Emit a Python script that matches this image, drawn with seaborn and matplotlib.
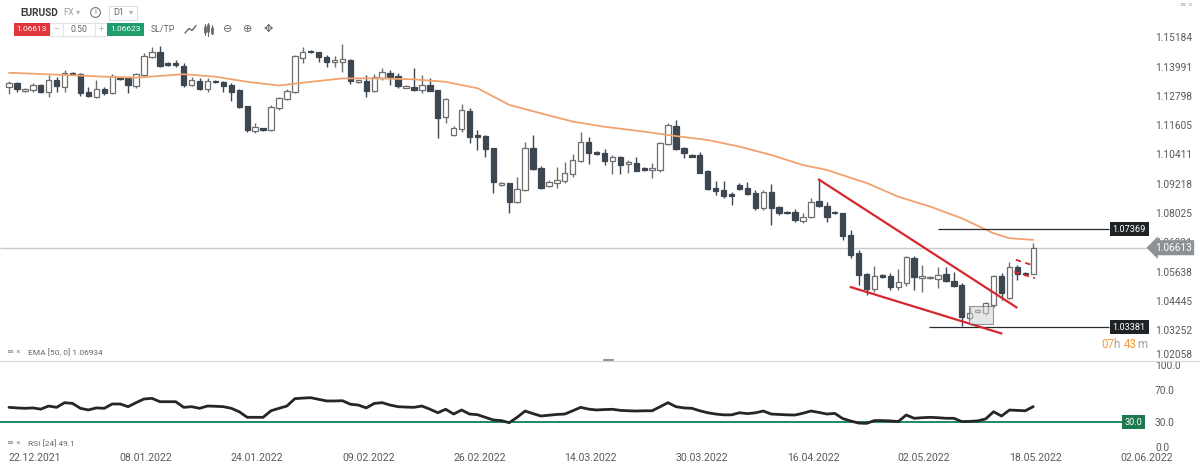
import numpy as np
import matplotlib
matplotlib.use("Agg")
import matplotlib.pyplot as plt
import matplotlib.patches as mpatches
from matplotlib.lines import Line2D
import seaborn as sns

# ------------------------------------------------------------------
# data (EURUSD D1, one candle per session)
# ------------------------------------------------------------------
opens = [1.1316, 1.1332, 1.1300, 1.1304, 1.1324, 1.1296, 1.1344, 1.1316, 1.1373, 1.1369,
         1.1296, 1.1275, 1.1308, 1.1291, 1.1353, 1.1353, 1.1320, 1.1365, 1.1438, 1.1458,
         1.1414, 1.1414, 1.1401, 1.1324, 1.1340, 1.1308, 1.1340, 1.1336, 1.1324, 1.1304,
         1.1239, 1.1137, 1.1147, 1.1141, 1.1230, 1.1267, 1.1296, 1.1434, 1.1462, 1.1458,
         1.1438, 1.1416, 1.1419, 1.1426, 1.1336, 1.1340, 1.1300, 1.1353, 1.1373, 1.1361,
         1.1313, 1.1316, 1.1304, 1.1324, 1.1304, 1.1194, 1.1121, 1.1145, 1.1218, 1.1121,
         1.1116, 1.1068, 1.0917, 1.0925, 1.0848, 1.0897, 1.1068, 1.0986, 1.0913, 1.0925,
         1.0933, 1.0962, 1.1015, 1.1092, 1.1051, 1.1047, 1.1015, 1.1031, 1.1002, 1.1006,
         1.0986, 1.0978, 1.0978, 1.1084, 1.1157, 1.1068, 1.1039, 1.1039, 1.0974, 1.0905,
         1.0897, 1.0880, 1.0917, 1.0905, 1.0885, 1.0823, 1.0889, 1.0828, 1.0807, 1.0807,
         1.0770, 1.0787, 1.0850, 1.0832, 1.0807, 1.0803, 1.0714, 1.0640, 1.0555, 1.0494,
         1.0551, 1.0547, 1.0502, 1.0518, 1.0620, 1.0539, 1.0539, 1.0534, 1.0555, 1.0526,
         1.0510, 1.0376, 1.0400, 1.0396, 1.0429, 1.0547, 1.0457, 1.0583, 1.0559, 1.0555]
highs = [1.1340, 1.1336, 1.1312, 1.1332, 1.1328, 1.1365, 1.1357, 1.1385, 1.1377, 1.1373,
         1.1316, 1.1344, 1.1316, 1.1369, 1.1357, 1.1357, 1.1373, 1.1454, 1.1479, 1.1483,
         1.1418, 1.1426, 1.1414, 1.1357, 1.1353, 1.1353, 1.1344, 1.1340, 1.1332, 1.1308,
         1.1239, 1.1169, 1.1149, 1.1243, 1.1275, 1.1308, 1.1446, 1.1479, 1.1467, 1.1460,
         1.1446, 1.1442, 1.1491, 1.1430, 1.1346, 1.1365, 1.1369, 1.1393, 1.1385, 1.1373,
         1.1324, 1.1393, 1.1365, 1.1353, 1.1304, 1.1271, 1.1157, 1.1247, 1.1230, 1.1141,
         1.1121, 1.1068, 1.0929, 1.0925, 1.0950, 1.1092, 1.1121, 1.0994, 1.0937, 1.0990,
         1.1011, 1.1043, 1.1133, 1.1112, 1.1055, 1.1064, 1.1039, 1.1035, 1.1019, 1.1031,
         1.0990, 1.1006, 1.1092, 1.1169, 1.1181, 1.1072, 1.1041, 1.1051, 1.0978, 1.0933,
         1.0933, 1.0889, 1.0925, 1.0929, 1.0897, 1.0897, 1.0921, 1.0832, 1.0811, 1.0819,
         1.0803, 1.0864, 1.0941, 1.0848, 1.0811, 1.0803, 1.0734, 1.0652, 1.0559, 1.0587,
         1.0555, 1.0559, 1.0575, 1.0628, 1.0628, 1.0591, 1.0547, 1.0583, 1.0583, 1.0563,
         1.0518, 1.0420, 1.0412, 1.0441, 1.0551, 1.0559, 1.0604, 1.0591, 1.0563, 1.0681]
lows = [1.1287, 1.1296, 1.1296, 1.1296, 1.1291, 1.1275, 1.1296, 1.1296, 1.1365, 1.1279,
        1.1275, 1.1273, 1.1283, 1.1287, 1.1344, 1.1291, 1.1312, 1.1361, 1.1434, 1.1397,
        1.1401, 1.1397, 1.1316, 1.1320, 1.1304, 1.1296, 1.1332, 1.1296, 1.1259, 1.1230,
        1.1133, 1.1129, 1.1137, 1.1137, 1.1222, 1.1263, 1.1291, 1.1414, 1.1454, 1.1418,
        1.1397, 1.1397, 1.1377, 1.1328, 1.1334, 1.1275, 1.1296, 1.1344, 1.1324, 1.1312,
        1.1312, 1.1300, 1.1291, 1.1298, 1.1108, 1.1169, 1.1116, 1.1133, 1.1088, 1.1059,
        1.1031, 1.0885, 1.0913, 1.0803, 1.0844, 1.0893, 1.0978, 1.0901, 1.0909, 1.0905,
        1.0925, 1.0950, 1.1011, 1.1002, 1.1039, 1.0998, 1.0962, 1.0962, 1.0966, 1.0972,
        1.0974, 1.0946, 1.0970, 1.1080, 1.1059, 1.1027, 1.1029, 1.0964, 1.0897, 1.0876,
        1.0864, 1.0836, 1.0897, 1.0876, 1.0815, 1.0815, 1.0754, 1.0795, 1.0799, 1.0766,
        1.0762, 1.0783, 1.0826, 1.0766, 1.0799, 1.0693, 1.0620, 1.0510, 1.0469, 1.0482,
        1.0539, 1.0490, 1.0490, 1.0506, 1.0490, 1.0482, 1.0534, 1.0498, 1.0522, 1.0502,
        1.0343, 1.0368, 1.0396, 1.0388, 1.0420, 1.0449, 1.0453, 1.0530, 1.0551, 1.0555]
closes = [1.1332, 1.1308, 1.1306, 1.1324, 1.1296, 1.1344, 1.1320, 1.1373, 1.1369, 1.1291,
          1.1279, 1.1308, 1.1291, 1.1361, 1.1348, 1.1324, 1.1369, 1.1442, 1.1458, 1.1401,
          1.1405, 1.1405, 1.1324, 1.1344, 1.1308, 1.1340, 1.1336, 1.1320, 1.1296, 1.1234,
          1.1141, 1.1153, 1.1139, 1.1234, 1.1271, 1.1300, 1.1442, 1.1458, 1.1458, 1.1438,
          1.1418, 1.1424, 1.1430, 1.1340, 1.1344, 1.1300, 1.1357, 1.1377, 1.1357, 1.1320,
          1.1320, 1.1304, 1.1324, 1.1301, 1.1190, 1.1267, 1.1149, 1.1222, 1.1112, 1.1112,
          1.1064, 1.0929, 1.0925, 1.0848, 1.0901, 1.1068, 1.0982, 1.0905, 1.0929, 1.0937,
          1.0966, 1.1019, 1.1092, 1.1047, 1.1043, 1.1015, 1.1031, 1.0998, 1.1011, 1.0974,
          1.0978, 1.0986, 1.1088, 1.1161, 1.1064, 1.1047, 1.1031, 1.0966, 1.0901, 1.0893,
          1.0872, 1.0872, 1.0901, 1.0880, 1.0823, 1.0889, 1.0823, 1.0803, 1.0803, 1.0774,
          1.0787, 1.0848, 1.0830, 1.0787, 1.0803, 1.0709, 1.0632, 1.0551, 1.0494, 1.0547,
          1.0543, 1.0502, 1.0522, 1.0624, 1.0543, 1.0547, 1.0543, 1.0551, 1.0526, 1.0506,
          1.0380, 1.0396, 1.0408, 1.0437, 1.0547, 1.0475, 1.0583, 1.0555, 1.0555, 1.0661]

# EMA(50) read at a set of candle positions
ema_idx = [0, 7, 12, 16, 22, 26, 30, 34, 38, 42, 47, 51, 55, 59, 63, 68, 71, 75, 80, 84,
           88, 92, 96, 100, 103, 108, 112, 116, 120, 124, 126, 129]
ema_vals = [1.1374, 1.1365, 1.1358, 1.1354, 1.1368, 1.1358, 1.1337, 1.1322, 1.1337, 1.1351,
            1.1351, 1.1347, 1.1337, 1.1311, 1.1243, 1.1200, 1.1175, 1.1154, 1.1134, 1.1116,
            1.1100, 1.1073, 1.1039, 1.0998, 1.0978, 1.0925, 1.0869, 1.0829, 1.0781, 1.0720,
            1.0700, 1.0693]

# RSI(24), one value per candle
rsi_vals = [48.2, 47.5, 47.0, 47.5, 46.0, 49.8, 48.2, 53.9, 53.0, 47.0,
            45.0, 47.5, 47.0, 52.3, 52.3, 49.0, 53.9, 58.4, 59.2, 55.1,
            55.1, 55.1, 48.2, 49.0, 47.0, 49.8, 49.5, 49.0, 47.0, 42.8,
            36.0, 36.0, 36.0, 44.0, 47.0, 49.8, 58.8, 59.5, 60.0, 58.0,
            56.0, 56.0, 56.3, 52.0, 51.0, 47.5, 53.0, 53.9, 51.0, 49.0,
            48.5, 48.2, 49.8, 46.0, 41.6, 45.8, 40.0, 44.9, 40.0, 39.2,
            36.0, 32.7, 32.0, 29.4, 36.0, 43.7, 40.5, 37.6, 38.5, 39.5,
            40.0, 44.0, 48.2, 46.0, 45.0, 45.5, 45.8, 44.5, 44.0, 43.7,
            44.0, 44.0, 49.0, 53.9, 49.0, 47.5, 47.0, 44.0, 41.6, 40.0,
            39.0, 39.0, 41.6, 40.5, 41.5, 43.7, 40.0, 39.5, 39.0, 38.8,
            41.0, 43.7, 42.0, 40.0, 40.8, 34.5, 31.5, 29.0, 28.6, 32.0,
            32.0, 31.6, 30.8, 38.8, 34.8, 35.5, 36.0, 35.5, 34.8, 34.8,
            30.8, 31.0, 31.6, 34.0, 42.8, 37.6, 44.9, 44.5, 44.0, 49.1]

price_ticks = ["1.15184", "1.13991", "1.12798", "1.11605", "1.10411", "1.09218",
               "1.08025", "1.06831", "1.05638", "1.04445", "1.03252", "1.02058"]
rsi_ticks = [0, 30, 70, 100]
date_labels = ["22.12.2021", "08.01.2022", "24.01.2022", "09.02.2022", "26.02.2022",
               "14.03.2022", "30.03.2022", "16.04.2022", "02.05.2022", "18.05.2022",
               "02.06.2022"]

last_price = 1.06613
ask_price = 1.06623
level_high = 1.07369
level_low = 1.03381
ema_last = 1.06934
rsi_last = 49.1

# drawn annotations (candle index, price)
wedge_top = ([101.9, 127.0], [1.0941, 1.0416])
wedge_bottom = ([105.9, 125.1], [1.0502, 1.0311])
flag_top = ([126.8, 129.2], [1.0612, 1.0587])
flag_bottom = ([126.6, 129.2], [1.0563, 1.0537])
box_x = (120.9, 123.9)
box_y = (1.0352, 1.0422)

# ------------------------------------------------------------------
sns.set_style("white")
plt.rcParams['font.family'] = ['Roboto', 'DejaVu Sans']

W, H = 1200, 468
DARK = '#3c4752'
BULL_EDGE = '#6e6e6e'
TXT = '#5a5a5a'


def fx(x):
    return x / W


def fy(y):
    return 1 - y / H


fig = plt.figure(figsize=(12, 4.68), dpi=100)
ax = fig.add_axes([0, fy(361), fx(1150), 361 / H])
ax_rsi = fig.add_axes([0, fy(450), fx(1150), (450 - 361) / H])

step = 7.94
xlim = (-9 / step, (1150 - 9) / step)

# ---- candles ----
o = np.array(opens)
c = np.array(closes)
idx = np.arange(len(o))
up = c >= o
body_lo = np.minimum(o, c)
body_h = np.maximum(np.abs(c - o), 0.00045)
face = np.where(up, 'white', DARK)
edge = np.where(up, BULL_EDGE, DARK)

ax.hlines(last_price, xlim[0], 143.3, color='#c8c8c8', lw=1, zorder=1)
ax.vlines(idx, lows, highs, colors=edge, lw=1, zorder=2)
ax.bar(idx, body_h, bottom=body_lo, width=0.68, color=face, edgecolor=edge,
       linewidth=0.9, zorder=3)

sns.lineplot(x=ema_idx, y=ema_vals, ax=ax, color='#f2a26f', linewidth=1.3,
             legend=False, zorder=4)

# support / resistance levels
ax.hlines(level_high, 117.0, 138.5, color='#2a2a2a', lw=0.9, zorder=4)
ax.hlines(level_low, 115.9, 138.5, color='#2a2a2a', lw=0.9, zorder=4)
for lvl in (level_high, level_low):
    ax.text(139.0, lvl, f"{lvl:.5f}", color='white', fontsize=6.6, va='center', ha='left',
            bbox=dict(boxstyle='square,pad=0.3', fc='#1f2326', ec='none'), zorder=6)

# wedge + flag
ax.plot(*wedge_top, color='#d7262d', lw=1.6, zorder=5, solid_capstyle='butt')
ax.plot(*wedge_bottom, color='#d7262d', lw=1.6, zorder=5, solid_capstyle='butt')
ax.plot(*flag_top, color='#d7262d', lw=1.3, ls=(0, (3, 2.5)), zorder=5)
ax.plot(*flag_bottom, color='#d7262d', lw=1.3, ls=(0, (3, 2.5)), zorder=5)
ax.add_patch(mpatches.Rectangle((box_x[0], box_y[0]), box_x[1] - box_x[0], box_y[1] - box_y[0],
                                facecolor='#cfd3d6', alpha=0.55, edgecolor='#4a4a4a',
                                lw=0.8, zorder=5))

ax.set_xlim(*xlim)
ax.set_ylim(1.01998, 1.16703)
ax.yaxis.tick_right()
ax.set_yticks([float(t) for t in price_ticks])
ax.set_yticklabels(price_ticks)
ax.tick_params(axis='y', length=0, pad=3.6, labelsize=7.3, labelcolor=TXT)
ax.get_yticklabels()[-1].set_va('bottom')
ax.set_xticks([])
ax.set_xlabel('')
ax.set_ylabel('')
for s in ax.spines.values():
    s.set_visible(False)

# current price tag (sits over the 1.06831 tick, as in the platform)
ax.text(144.3, last_price, f"{last_price:.5f}", color='white', fontsize=7.3, va='center',
        ha='left', bbox=dict(boxstyle='larrow,pad=0.25', fc='#8c9196', ec='none'), zorder=7)

# ---- RSI panel ----
ax_rsi.hlines(30, xlim[0], 140.2, color='#1f8a5e', lw=1.4, zorder=1)
sns.lineplot(x=idx, y=rsi_vals, ax=ax_rsi, color='#262626', linewidth=2.0,
             legend=False, zorder=3)
ax_rsi.text(140.5, 30, "30.0", color='white', fontsize=6.6, va='center', ha='left',
            bbox=dict(boxstyle='square,pad=0.3', fc='#1d7a50', ec='none'), zorder=6)
ax_rsi.set_xlim(*xlim)
ax_rsi.set_ylim(-4.0, 104.9)
ax_rsi.yaxis.tick_right()
ax_rsi.set_yticks(rsi_ticks)
ax_rsi.set_yticklabels([f"{v:.1f}" for v in rsi_ticks])
ax_rsi.set_xticks(np.arange(len(date_labels)) * 14 + 3.25)
ax_rsi.set_xticklabels(date_labels)
ax_rsi.tick_params(axis='y', length=0, pad=3.6, labelsize=7.3, labelcolor=TXT)
ax_rsi.tick_params(axis='x', length=0, pad=2.5, labelsize=7.6, labelcolor=TXT)
ax_rsi.set_xlabel('')
ax_rsi.set_ylabel('')
for s in ax_rsi.spines.values():
    s.set_visible(False)

# panel separator + handle
fig.add_artist(Line2D([0, 1], [fy(361), fy(361)], color='#d6d6d6', lw=0.8))
fig.add_artist(Line2D([fx(604), fx(613)], [fy(359.5), fy(359.5)], color='#9a9a9a', lw=1.6))

# indicator captions
fig.text(fx(7), fy(352), "≡ ×", fontsize=6, color='#8a8a8a', va='center')
fig.text(fx(28), fy(352), f"EMA [50, 0] {ema_last:.5f}", fontsize=6, color='#666666', va='center')
fig.text(fx(7), fy(443), "≡ ×", fontsize=6, color='#8a8a8a', va='center')
fig.text(fx(28), fy(443), f"RSI [24] {rsi_last}", fontsize=6, color='#666666', va='center')

# countdown
orange = '#f29a38'
fig.text(fx(1101.5), fy(344), "07", fontsize=8.3, color=orange, va='center')
fig.text(fx(1113.5), fy(344), "h", fontsize=8.3, color='#a0a0a0', va='center')
fig.text(fx(1124), fy(344), "43", fontsize=8.3, color=orange, va='center')
fig.text(fx(1137), fy(344), "m", fontsize=8.3, color='#a0a0a0', va='center')

# ---- header ----
fig.text(fx(20), fy(12.5), "EURUSD", fontsize=7.2, fontweight='bold', color='#3a3a3a', va='center')
fig.text(fx(63), fy(12.5), "FX", fontsize=6.5, color='#9a9a9a', va='center')
fig.text(fx(76), fy(12.5), "▾", fontsize=6, color='#b0b0b0', va='center')
fig.text(fx(95.5), fy(12.5), "i", fontsize=5.5, color='#777777', va='center', ha='center',
         bbox=dict(boxstyle='circle,pad=0.25', fc='none', ec='#777777', lw=0.8))
fig.add_artist(mpatches.Rectangle((fx(109), fy(19.5)), fx(137) - fx(109), (19.5 - 6) / H,
                                  transform=fig.transFigure, fc='white', ec='#dddddd', lw=0.8))
fig.text(fx(113), fy(12.5), "D1", fontsize=6.5, color='#666666', va='center')
fig.text(fx(129), fy(12.5), "▾", fontsize=6, color='#b0b0b0', va='center')

fig.add_artist(mpatches.Rectangle((fx(14), fy(35.5)), fx(49.5) - fx(14), 12.5 / H,
                                  transform=fig.transFigure, fc='#e0363c', ec='none'))
fig.text(fx(31.7), fy(29.2), f"{last_price:.5f}", fontsize=6, color='white', va='center', ha='center')
fig.add_artist(mpatches.Rectangle((fx(50), fy(35.5)), fx(107) - fx(50), 12.5 / H,
                                  transform=fig.transFigure, fc='white', ec='#e3e3e3', lw=0.8))
fig.add_artist(mpatches.Rectangle((fx(63), fy(35.5)), fx(95) - fx(63), 12.5 / H,
                                  transform=fig.transFigure, fc='white', ec='#e3e3e3', lw=0.8))
fig.text(fx(56.5), fy(29.2), "–", fontsize=6.5, color='#aaaaaa', va='center', ha='center')
fig.text(fx(79), fy(29.2), "0.50", fontsize=6.3, color='#666666', va='center', ha='center')
fig.text(fx(101), fy(29.2), "+", fontsize=6.5, color='#aaaaaa', va='center', ha='center')
fig.add_artist(mpatches.Rectangle((fx(107), fy(35.5)), fx(143.5) - fx(107), 12.5 / H,
                                  transform=fig.transFigure, fc='#1f9d6c', ec='none'))
fig.text(fx(125.2), fy(29.2), f"{ask_price:.5f}", fontsize=6, color='white', va='center', ha='center')
fig.text(fx(151), fy(29.2), "SL/TP", fontsize=6.3, color='#666666', va='center')

# toolbar icons
fig.add_artist(Line2D([fx(185), fx(189), fx(192), fx(196)], [fy(33), fy(28.5), fy(30.5), fy(25.5)],
                      color='#666666', lw=1))
for k, (lo, hi, b0, b1) in enumerate([(24, 35, 27, 32), (23, 36, 25, 31), (25, 34, 28, 33)]):
    xx = 205 + k * 3.5
    fig.add_artist(Line2D([fx(xx), fx(xx)], [fy(hi), fy(lo)], color='#666666', lw=0.8))
    fig.add_artist(Line2D([fx(xx), fx(xx)], [fy(b1), fy(b0)], color='#666666', lw=2))
fig.text(fx(228), fy(29), "⊖", fontsize=8, color='#666666', va='center', ha='center',
         family='DejaVu Sans')
fig.text(fx(248), fy(29), "⊕", fontsize=8, color='#666666', va='center', ha='center',
         family='DejaVu Sans')
fig.text(fx(268), fy(29), "✥", fontsize=8, color='#666666', va='center', ha='center',
         family='DejaVu Sans')
fig.text(fx(1180), fy(5), "≡ ×", fontsize=5.5, color='#b0b0b0', va='center')

fig.savefig("out.png", dpi=100)
